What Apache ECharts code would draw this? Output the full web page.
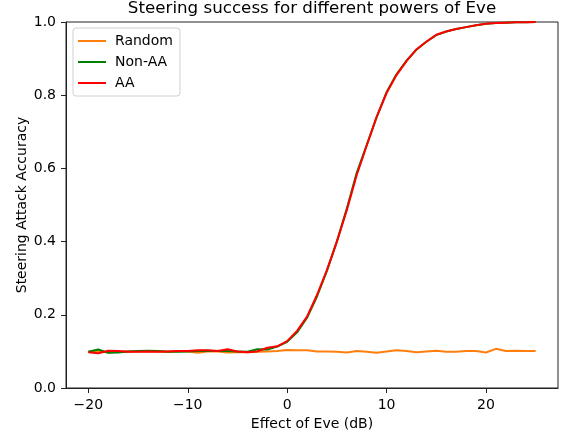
<!DOCTYPE html>
<html><head><meta charset="utf-8">
<script src="https://cdn.jsdelivr.net/npm/echarts@6/dist/echarts.min.js"></script>
<style>html,body{margin:0;padding:0;background:#fff}#c{width:565px;height:438px}</style>
</head><body><div id="c"></div>
<script>
const xValues = [-20,-19,-18,-17,-16,-15,-14,-13,-12,-11,-10,-9,-8,-7,-6,-5,-4,-3,-2,-1,0,1,2,3,4,5,6,7,8,9,10,11,12,13,14,15,16,17,18,19,20,21,22,23,24,25];
const randomVals = [0.100,0.101,0.097,0.099,0.100,0.100,0.101,0.100,0.099,0.101,0.100,0.096,0.100,0.100,0.097,0.098,0.098,0.099,0.100,0.101,0.104,0.103,0.103,0.100,0.100,0.099,0.097,0.101,0.099,0.096,0.100,0.103,0.101,0.098,0.100,0.102,0.099,0.099,0.101,0.101,0.097,0.107,0.101,0.102,0.101,0.101];
const nonAAVals = [0.099,0.105,0.096,0.097,0.100,0.101,0.102,0.101,0.099,0.099,0.100,0.101,0.102,0.101,0.101,0.100,0.099,0.106,0.105,0.113,0.126,0.152,0.192,0.250,0.320,0.400,0.490,0.588,0.664,0.740,0.808,0.857,0.894,0.924,0.946,0.964,0.974,0.981,0.986,0.991,0.995,0.997,0.998,0.999,0.999,1.000];
const aaVals = [0.098,0.095,0.102,0.101,0.099,0.099,0.100,0.099,0.100,0.101,0.101,0.103,0.103,0.101,0.106,0.100,0.098,0.100,0.110,0.114,0.128,0.156,0.195,0.254,0.322,0.400,0.486,0.582,0.662,0.740,0.806,0.855,0.893,0.925,0.946,0.965,0.974,0.981,0.986,0.991,0.995,0.997,0.998,0.999,0.999,1.000];
const xTicks = [-20,-10,0,10,20];
const seriesNames = ['Random','Non-AA','AA'];
const seriesColors = ['#ff7f0e','#008000','#ff0000'];

const font = 'DejaVu Sans';
const allData = [randomVals, nonAAVals, aaVals];
const chart = echarts.init(document.getElementById('c'), null, {renderer:'canvas'});
chart.setOption({
  animation:false,
  backgroundColor:'#fff',
  graphic:[{type:'text', x:312, y:0, style:{text:'Steering success for different powers of Eve', font:'16.7px "DejaVu Sans"', fill:'#000', textAlign:'center', textVerticalAlign:'top'}}],
  grid:{left:66, right:7, top:22, bottom:50, show:true, borderColor:'#222', borderWidth:1, backgroundColor:'transparent'},
  legend:{
    orient:'vertical', left:73, top:28, padding:[6,7,6,5], itemGap:7,
    backgroundColor:'rgba(255,255,255,0.8)', borderColor:'#d0d0d0', borderWidth:1, borderRadius:3,
    itemWidth:28, itemHeight:2, icon:'rect',
    textStyle:{fontFamily:font, fontSize:14, color:'#000', padding:[0,0,0,4]},
    data:seriesNames
  },
  xAxis:{
    type:'value', min:-22.25, max:27.25,
    name:'Effect of Eve (dB)', nameLocation:'middle', nameGap:29, nameMoveOverlap:false,
    nameTextStyle:{fontFamily:font, fontSize:14, color:'#000'},
    axisLine:{show:true, onZero:false, lineStyle:{color:'#222'}},
    axisTick:{show:true, length:5, inside:false, customValues:xTicks, lineStyle:{color:'#222'}},
    axisLabel:{show:true, customValues:xTicks, fontFamily:font, fontSize:14, color:'#000', margin:10, formatter:v=>String(v).replace('-','\u2212')},
    splitLine:{show:false}
  },
  yAxis:{
    type:'value', min:0, max:1, interval:0.2,
    name:'Steering Attack Accuracy', nameLocation:'middle', nameGap:37, nameMoveOverlap:false,
    nameTextStyle:{fontFamily:font, fontSize:14, color:'#000'},
    axisLine:{show:true, onZero:false, lineStyle:{color:'#222'}},
    axisTick:{show:true, length:5, inside:false, lineStyle:{color:'#222'}},
    axisLabel:{show:true, fontFamily:font, fontSize:14, color:'#000', margin:10, formatter:v=>v.toFixed(1)},
    splitLine:{show:false}
  },
  series: seriesNames.map((n,i)=>({
    name:n, type:'line', showSymbol:false, symbol:'none',
    data: xValues.map((x,j)=>[x, allData[i][j]]),
    lineStyle:{color:seriesColors[i], width:2},
    itemStyle:{color:seriesColors[i]},
    z:2+i
  }))
});
</script></body></html>
